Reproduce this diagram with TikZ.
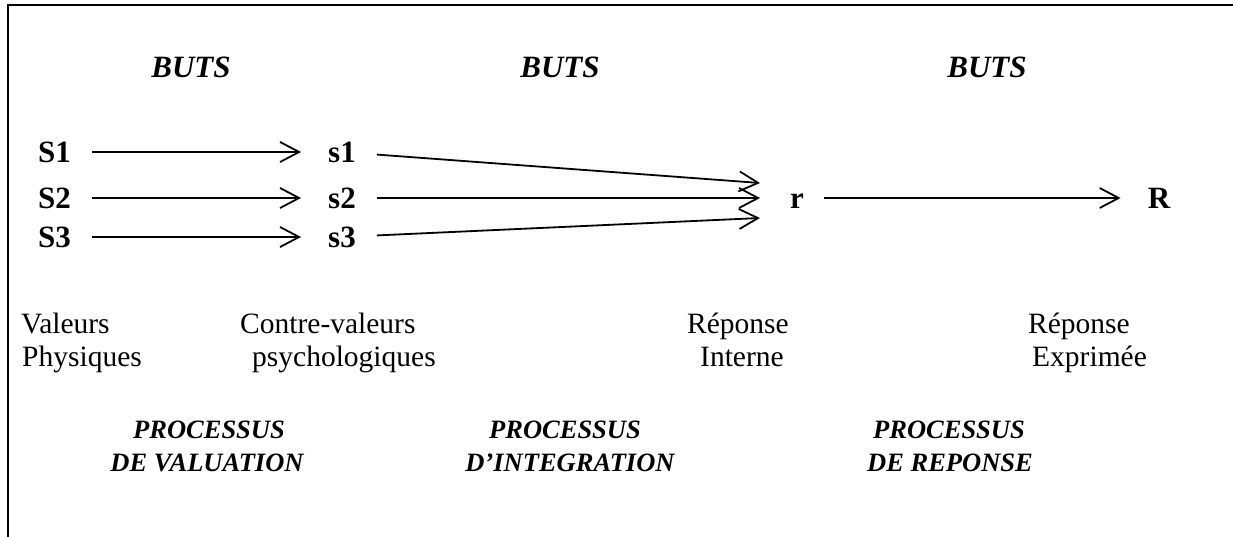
\documentclass[tikz,border=0pt]{standalone}
\usepackage{fontspec}
\setmainfont{Liberation Serif}
\usetikzlibrary{arrows.meta}
\begin{document}
\begin{tikzpicture}[x=1pt,y=-1pt,
  lbl/.style={font=\fontsize{31}{36}\selectfont\bfseries, inner sep=0pt, text height=21pt, text depth=0pt},
  buts/.style={font=\fontsize{31}{36}\selectfont\bfseries\itshape, inner sep=0pt, anchor=base},
  txt/.style={font=\fontsize{29.5}{35}\selectfont, inner sep=0pt, anchor=base west},
  proc/.style={font=\fontsize{26.5}{31}\selectfont\bfseries\itshape, inner sep=0pt, anchor=base},
  arr/.style={line width=1.8pt, -{Straight Barb[length=19pt,width=20pt,line width=1.8pt]}},
  frame/.style={line width=2pt}]
\useasboundingbox (0,0) rectangle (1233,537);
\draw[frame] (8,537) -- (8,5) -- (1233,5);

\node[buts] (b1) at (191,78) {BUTS};
\node[buts] (b2) at (560,78) {BUTS};
\node[buts] (b3) at (987,78) {BUTS};

\node[lbl] (S1) at (54.5,152) {S1};
\node[lbl] (S2) at (54.5,198) {S2};
\node[lbl] (S3) at (54.5,237) {S3};
\node[lbl] (s1) at (342,152) {s1};
\node[lbl] (s2) at (342,198) {s2};
\node[lbl] (s3) at (342,237) {s3};
\node[lbl] (r) at (797,198) {r};
\node[lbl] (R) at (1159,198) {R};

\coordinate (r1) at (760,183);
\coordinate (r2) at (760,198);
\coordinate (r3) at (760,218);

\draw[arr, shorten <=21pt, shorten >=27pt] (S1) -- (s1);
\draw[arr, shorten <=21pt, shorten >=27pt] (S2) -- (s2);
\draw[arr, shorten <=21pt, shorten >=27pt] (S3) -- (s3);
\draw[arr, shorten <=21pt] (s1) -- (r1);
\draw[arr, shorten <=21pt] (s2) -- (r2);
\draw[arr, shorten <=21pt] (s3) -- (r3);
\draw[arr, shorten <=20pt, shorten >=27pt] (r) -- (R);

\node[txt] (v1) at (21,333) {Valeurs};
\node[txt] (v2) at (22,366) {Physiques};
\node[txt] (c1) at (240,333) {Contre-valeurs};
\node[txt] (c2) at (252,366) {psychologiques};
\node[txt] (ri1) at (687,333) {Réponse};
\node[txt] (ri2) at (700,366) {Interne};
\node[txt] (re1) at (1028,333) {Réponse};
\node[txt] (re2) at (1032,366) {Exprimée};

\node[proc] (p1) at (209,438) {PROCESSUS};
\node[proc] (p1b) at (207,471) {DE VALUATION};
\node[proc] (p2) at (565,438) {PROCESSUS};
\node[proc] (p2b) at (570,471) {D’INTEGRATION};
\node[proc] (p3) at (949,438) {PROCESSUS};
\node[proc] (p3b) at (950,471) {DE REPONSE};
\end{tikzpicture}
\end{document}
